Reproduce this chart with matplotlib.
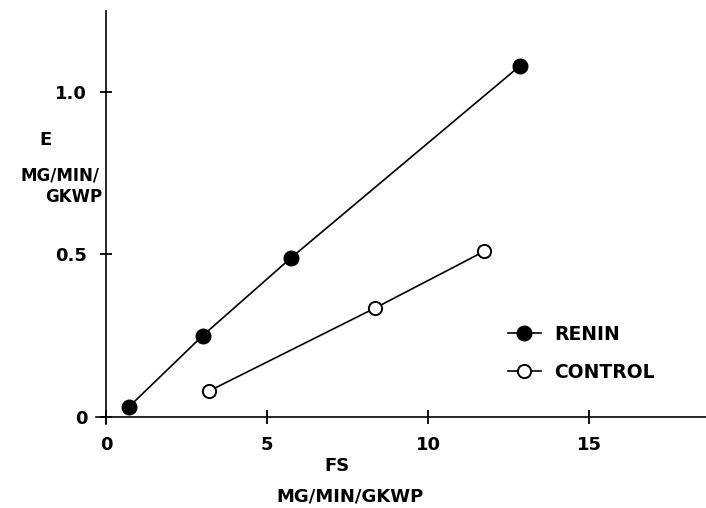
import numpy as np
import matplotlib
matplotlib.use("Agg")
import matplotlib.pyplot as plt

# values
renin_fs = [0.7, 3.0, 5.75, 12.85]
renin_e = [0.03, 0.25, 0.49, 1.08]
control_fs = [3.2, 8.35, 11.75]
control_e = [0.08, 0.335, 0.51]

x_ticks = [0, 5, 10, 15]
x_labels = ["0", "5", "10", "15"]
y_ticks = [0, 0.5, 1.0]
y_labels = ["0", "0.5", "1.0"]

plt.rcParams["font.family"] = "DejaVu Sans"
plt.rcParams["font.weight"] = "bold"

fig = plt.figure(figsize=(7.06, 5.08), dpi=100)
ax = fig.add_axes([0.1364, 0.1663, 0.8636, 0.812])

ax.plot(renin_fs, renin_e, color="black", lw=1.2, marker="o", ms=10.5,
        mfc="black", mec="black", label="RENIN")
ax.plot(control_fs, control_e, color="black", lw=1.2, marker="o", ms=9.5,
        mfc="white", mec="black", mew=1.4, label="CONTROL")

ax.set_xlim(-0.3, 18.63)
ax.set_ylim(-0.02, 1.249)

for s in ["top", "right"]:
    ax.spines[s].set_visible(False)
ax.spines["left"].set_position(("data", 0))
ax.spines["bottom"].set_position(("data", 0))
ax.spines["left"].set_linewidth(1.2)
ax.spines["bottom"].set_linewidth(1.2)

ax.set_xticks(x_ticks)
ax.set_xticklabels(x_labels)
ax.set_yticks(y_ticks)
ax.set_yticklabels(y_labels)
ax.tick_params(axis="x", direction="inout", length=10, width=1.3, pad=9, labelsize=13)
ax.tick_params(axis="y", direction="inout", length=9, width=1.3, pad=9, labelsize=13)
for lab in ax.get_xticklabels() + ax.get_yticklabels():
    lab.set_fontweight("bold")

# axis titles placed as in the reference
fig.text(0.064, 0.724, "E", ha="center", va="center", fontsize=13, fontweight="bold")
fig.text(0.085, 0.655, "MG/MIN/", ha="center", va="center", fontsize=12, fontweight="bold")
fig.text(0.145, 0.612, "GKWP", ha="right", va="center", fontsize=12, fontweight="bold")
fig.text(0.477, 0.083, "FS", ha="center", va="center", fontsize=13, fontweight="bold")
fig.text(0.496, 0.022, "MG/MIN/GKWP", ha="center", va="center", fontsize=13, fontweight="bold")

leg = ax.legend(loc="upper left", bbox_to_anchor=(508 / 706, 1 - 325 / 508),
                bbox_transform=fig.transFigure, frameon=False, fontsize=13.5,
                handlelength=1.75, handletextpad=0.7, labelspacing=1.0,
                borderpad=0, borderaxespad=0)
for t in leg.get_texts():
    t.set_fontweight("bold")

fig.savefig("out.png", dpi=100)
